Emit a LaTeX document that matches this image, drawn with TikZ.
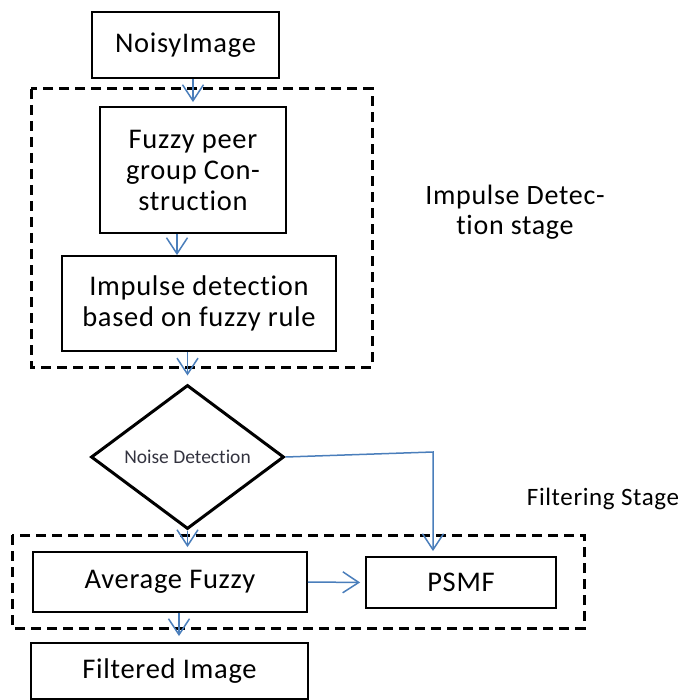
\documentclass[tikz,border=0pt]{standalone}
\usepackage{fontspec}
\setmainfont[LetterSpace=2.5,RawFeature={-liga;-clig;-calt;-dlig}]{Carlito}
\newfontfamily\ndfont[RawFeature={-liga;-clig;-calt;-dlig}]{Carlito}
\usetikzlibrary{shapes.geometric,arrows.meta,calc}
\definecolor{arrblue}{HTML}{4A7EBB}
\definecolor{ndtext}{HTML}{33333F}
\begin{document}
\begin{tikzpicture}[x=1pt,y=-1pt,
  box/.style={draw=black,line width=1.8pt,rectangle,inner sep=0pt,align=center,
    font=\fontsize{28.5}{31}\selectfont},
  stagebox/.style={draw=black,line width=3pt,dash pattern=on 10pt off 6pt},
  arr/.style={draw=arrblue,line width=1.5pt,-{Straight Barb[length=16pt,width=21pt,line width=1.5pt]}},
  lbl/.style={align=center,inner sep=0pt,font=\fontsize{28}{30}\selectfont}]
\useasboundingbox (0,0) rectangle (682,700);
% stage frames
\draw[stagebox] (31,89) rectangle (372,367);
\draw[stagebox] (12,535) rectangle (584,628);
% boxes
\node[box,minimum width=187pt,minimum height=66pt] (noisy) at (185.5,45) {NoisyImage};
\node[box,minimum width=186pt,minimum height=126pt] (fuzzy) at (193,170) {Fuzzy peer\\group Con-\\struction};
\node[box,minimum width=274pt,minimum height=95pt] (impulse) at (199,303.5) {Impulse detection\\based on fuzzy rule};
\node[draw=black,line width=3pt,diamond,minimum width=193pt,minimum height=144pt,inner sep=0pt,
  text=ndtext,font=\ndfont\fontsize{19.5}{21}\selectfont] (nd) at (187.5,457) {Noise Detection};
\node[box,minimum width=274pt,minimum height=60pt] (avg) at (170,582) {Average Fuzzy};
\node[box,minimum width=190pt,minimum height=51pt] (psmf) at (461,582.5) {PSMF};
\node[box,minimum width=277pt,minimum height=56pt] (filt) at (169.5,671) {Filtered Image};
% labels
\node[lbl] (idstage) at (515,212) {Impulse Detec-\\tion stage};
\node[lbl,font=\fontsize{25}{28}\selectfont] (fstage) at (603,499) {Filtering Stage};
% connectors
\draw[arr,shorten >=4pt] (fuzzy.north |- noisy.south) -- (fuzzy.north);
\draw[arr] ([xshift=-16pt]fuzzy.south) -- ([xshift=-16pt]fuzzy.south |- impulse.north);
\draw[arr,shorten >=8pt] (impulse.south -| nd.north) -- (nd.north);
\draw[arr,shorten >=4pt] (nd.south) -- (nd.south |- avg.north);
\coordinate (corner) at (433,452);
\draw[arr,shorten >=5pt] (nd.east) -- (corner) -- (corner |- psmf.north);
\draw[arr,shorten >=5pt] (avg.east) -- (psmf.west);
\draw[arr,shorten >=6pt] ([xshift=9pt]avg.south) -- ([xshift=9pt]avg.south |- filt.north);
\end{tikzpicture}
\end{document}
